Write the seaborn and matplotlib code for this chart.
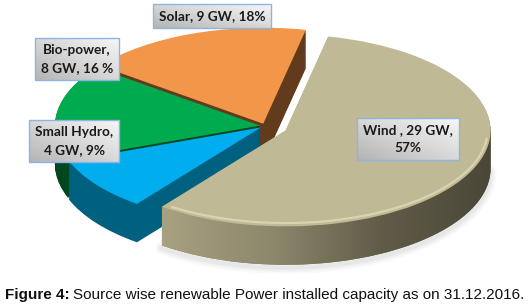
import numpy as np
import matplotlib
matplotlib.use("Agg")
import matplotlib.pyplot as plt
import seaborn as sns
from matplotlib.patches import Polygon
from matplotlib.colors import LinearSegmentedColormap

# ---- data ----
sources = ["Solar", "Bio-power", "Small Hydro", "Wind"]
capacity_gw = [9, 8, 4, 29]
share_pct = [18, 16, 9, 57]
labels = ["Solar, 9 GW, 18%", "Bio-power,\n8 GW, 16 %", "Small Hydro,\n4 GW, 9%", "Wind , 29 GW,\n57%"]
caption_bold = "Figure 4:"
caption_text = "Source wise renewable Power installed capacity as on 31.12.2016."

# ---- style ----
top_colors = ["#f2964a", "#00ab4f", "#00aeef", "#c0b995"]
side_colors = ["#623b1c", "#00461f", "#00607f", "#7d7760"]
explode = [0.025, 0.025, 0.025, 0.11]
start = 78
depth = 0.40
nlayers = 45
SX, SY = 205, 96          # px per data unit (x, y)
CXP, CYP = 265, 126       # pie centre in pixels (from left, from top)

sns.set_style("white")
W, H = 528, 306
fig = plt.figure(figsize=(W / 100, H / 100), dpi=100)
ax = fig.add_axes([0, 0, 1, 1])

# side layers (pseudo-3D depth)
for k in range(nlayers, 0, -1):
    dy = -depth * k / nlayers
    sw, _ = ax.pie(share_pct, colors=side_colors, explode=explode, startangle=start,
                   center=(0, dy), wedgeprops=dict(linewidth=0))
    for w in sw:
        w.set_zorder(1)

# top faces
wedges, _ = ax.pie(share_pct, colors=top_colors, explode=explode, startangle=start,
                   wedgeprops=dict(linewidth=0))
for w in wedges:
    w.set_zorder(3)

# gradient on the wind rim + soft shadow
wind = wedges[3]
cx, cy = wind.center
r = wind.r
th = np.radians(np.linspace(wind.theta1, 360, 200))
top = np.column_stack([cx + r * np.cos(th), cy + r * np.sin(th)])
bot = top - np.array([0, depth])
for lw, a in [(9, 0.04), (6, 0.06), (3, 0.08)]:
    ax.plot(bot[:, 0], bot[:, 1] - 0.03, color="#777777", lw=lw, alpha=a, zorder=0.5,
            solid_capstyle="round")
rim = Polygon(np.vstack([top, bot[::-1]]), closed=True, transform=ax.transData,
              facecolor="none", edgecolor="none")
cmap = LinearSegmentedColormap.from_list("rim", ["#a8a181", "#8d876c", "#615c48", "#4b4738"])
grad = np.linspace(0, 1, 256).reshape(1, -1)
im = ax.imshow(grad, cmap=cmap, extent=[top[:, 0].min(), top[:, 0].max(), cy - r - depth, cy],
               aspect="auto", zorder=2)
im.set_clip_path(rim)
# highlight bevel on the front edge
th2 = np.radians(np.linspace(wind.theta1 + 3, 355, 200))
ax.plot(cx + 0.985 * r * np.cos(th2), cy + 0.965 * r * np.sin(th2), color="#ddd7b4",
        lw=1.6, alpha=0.9, zorder=4, solid_capstyle="round")

# map data units to figure pixels
ax.set_aspect("auto")
ax.set_xlim(-CXP / SX, (W - CXP) / SX)
ax.set_ylim(-(H - CYP) / SY, CYP / SY)
ax.axis("off")

# labels with gradient boxes
label_pos = [(212, 16), (77, 59), (74, 141), (408, 139)]
texts = []
for txt, (px, py) in zip(labels, label_pos):
    t = fig.text(px / W, 1 - py / H, txt, ha="center", va="center", fontsize=9.8,
                 fontweight="bold", family="Lato", color="#1a1a1a", linespacing=1.6,
                 bbox=dict(boxstyle="square,pad=0.45", facecolor="none",
                           edgecolor="#8db4e2", linewidth=1.0), zorder=10)
    texts.append(t)
fig.canvas.draw()
box_cmap = LinearSegmentedColormap.from_list("box", ["#b4b4b4", "#d8d8d8", "#f7f7f7"])
yy, xx = np.mgrid[0:1:50j, 0:1:50j]
box_grad = (xx + yy) / 2
for t in texts:
    bb = t.get_bbox_patch().get_window_extent()
    bax = fig.add_axes([bb.x0 / W, bb.y0 / H, bb.width / W, bb.height / H], zorder=5)
    bax.imshow(box_grad, cmap=box_cmap, origin="lower", aspect="auto", extent=[0, 1, 0, 1])
    bax.axis("off")

# caption
t1 = fig.text(5 / W, 11 / H, caption_bold, ha="left", va="center", fontsize=11,
              fontweight="bold", family="Liberation Sans", color="#111111")
fig.canvas.draw()
bb = t1.get_window_extent()
fig.text((bb.x1 + 3) / W, 11 / H, caption_text, ha="left", va="center", fontsize=11,
         family="Liberation Sans", color="#111111")

fig.savefig("out.png", dpi=100)
